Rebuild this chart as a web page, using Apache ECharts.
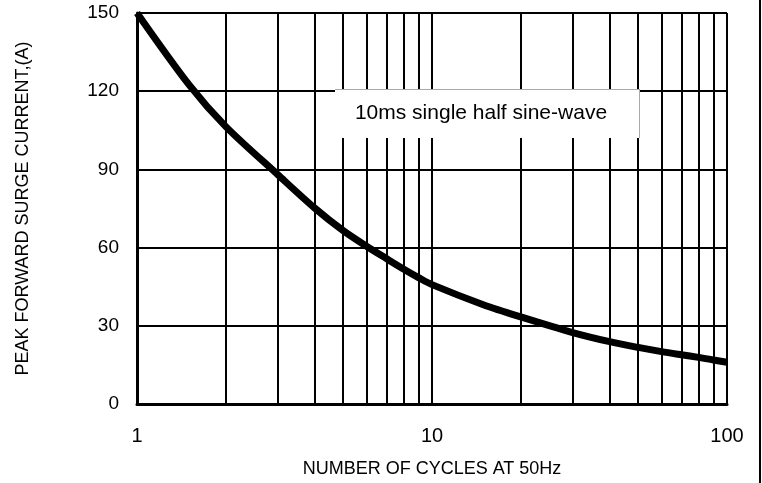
<!DOCTYPE html>
<html>
<head>
<meta charset="utf-8">
<script src="https://cdn.jsdelivr.net/npm/echarts@6/dist/echarts.min.js"></script>
<style>html,body{margin:0;padding:0;background:#fff;}#c{width:762px;height:483px;}</style>
</head>
<body>
<div id="c"></div>
<script>
var cycles = [1, 1.5, 2, 3, 4, 5, 6, 7, 8, 9, 10, 15, 20, 30, 40, 50, 60, 70, 80, 90, 100];
var current = [150, 122.5, 106.4, 88, 75.2, 66.5, 60.5, 55.8, 51.8, 48.5, 45.8, 38, 33.4, 27.4, 23.9, 21.7, 20.1, 18.9, 17.9, 16.9, 16.0];
var minorGridX = [2, 3, 4, 5, 6, 7, 8, 9, 20, 30, 40, 50, 60, 70, 80, 90];
var yTicks = [0, 30, 60, 90, 120, 150];
var xTitle = 'NUMBER OF CYCLES AT 50Hz';
var yTitle = 'PEAK FORWARD SURGE CURRENT,(A)';
var note = '10ms single half sine-wave';

var FONT = 'Liberation Sans, Arial, sans-serif';
var chart = echarts.init(document.getElementById('c'));
chart.setOption({
  animation: false,
  backgroundColor: '#fff',
  grid: {left: 137, right: 35, top: 13, bottom: 79},
  xAxis: {
    type: 'log', logBase: 10, min: 1, max: 100,
    name: xTitle, nameLocation: 'middle', nameGap: 56,
    nameTextStyle: {fontFamily: FONT, fontSize: 18, color: '#000'},
    axisLine: {show: true, lineStyle: {color: '#000', width: 3}},
    axisTick: {show: false},
    axisLabel: {fontFamily: FONT, fontSize: 20, color: '#000', margin: 22},
    splitLine: {show: true, lineStyle: {color: '#000', width: 2}},
    minorSplitLine: {show: false}
  },
  yAxis: {
    type: 'value', min: 0, max: 150, interval: 30,
    name: yTitle, nameLocation: 'middle', nameGap: 105, nameRotate: 90,
    nameTextStyle: {fontFamily: FONT, fontSize: 18, color: '#000'},
    axisLine: {show: true, lineStyle: {color: '#000', width: 3}},
    axisTick: {show: false},
    axisLabel: {fontFamily: FONT, fontSize: 19, color: '#000', margin: 18,
      formatter: function (v) { return yTicks.indexOf(v) >= 0 ? String(v) : ''; }},
    splitLine: {show: true, lineStyle: {color: '#000', width: 2}}
  },
  series: [{
    type: 'line',
    data: cycles.map(function (c, i) { return [c, current[i]]; }),
    smooth: 0.3,
    showSymbol: false,
    lineStyle: {color: '#000', width: 7},
    z: 5,
    markLine: {
      silent: true,
      symbol: 'none',
      label: {show: false},
      lineStyle: {color: '#000', width: 2, type: 'solid'},
      data: minorGridX.map(function (v) { return {xAxis: v}; }),
      z: 1
    }
  }],
  graphic: [
    {type: 'rect', z: 100, shape: {x: 335, y: 89, width: 304, height: 49}, style: {fill: '#fff'}},
    {type: 'line', z: 101, shape: {x1: 335, y1: 89.5, x2: 639.5, y2: 89.5}, style: {stroke: '#aaa', lineWidth: 1}},
    {type: 'line', z: 101, shape: {x1: 639.5, y1: 89, x2: 639.5, y2: 138}, style: {stroke: '#aaa', lineWidth: 1}},
    {type: 'text', z: 102, x: 481, y: 113, style: {text: note, fontFamily: FONT, fontSize: 21, fill: '#000', textAlign: 'center', textVerticalAlign: 'middle'}},
    {type: 'line', z: 101, shape: {x1: 760, y1: 0, x2: 760, y2: 483}, style: {stroke: '#000', lineWidth: 2}}
  ]
});
</script>
</body>
</html>
